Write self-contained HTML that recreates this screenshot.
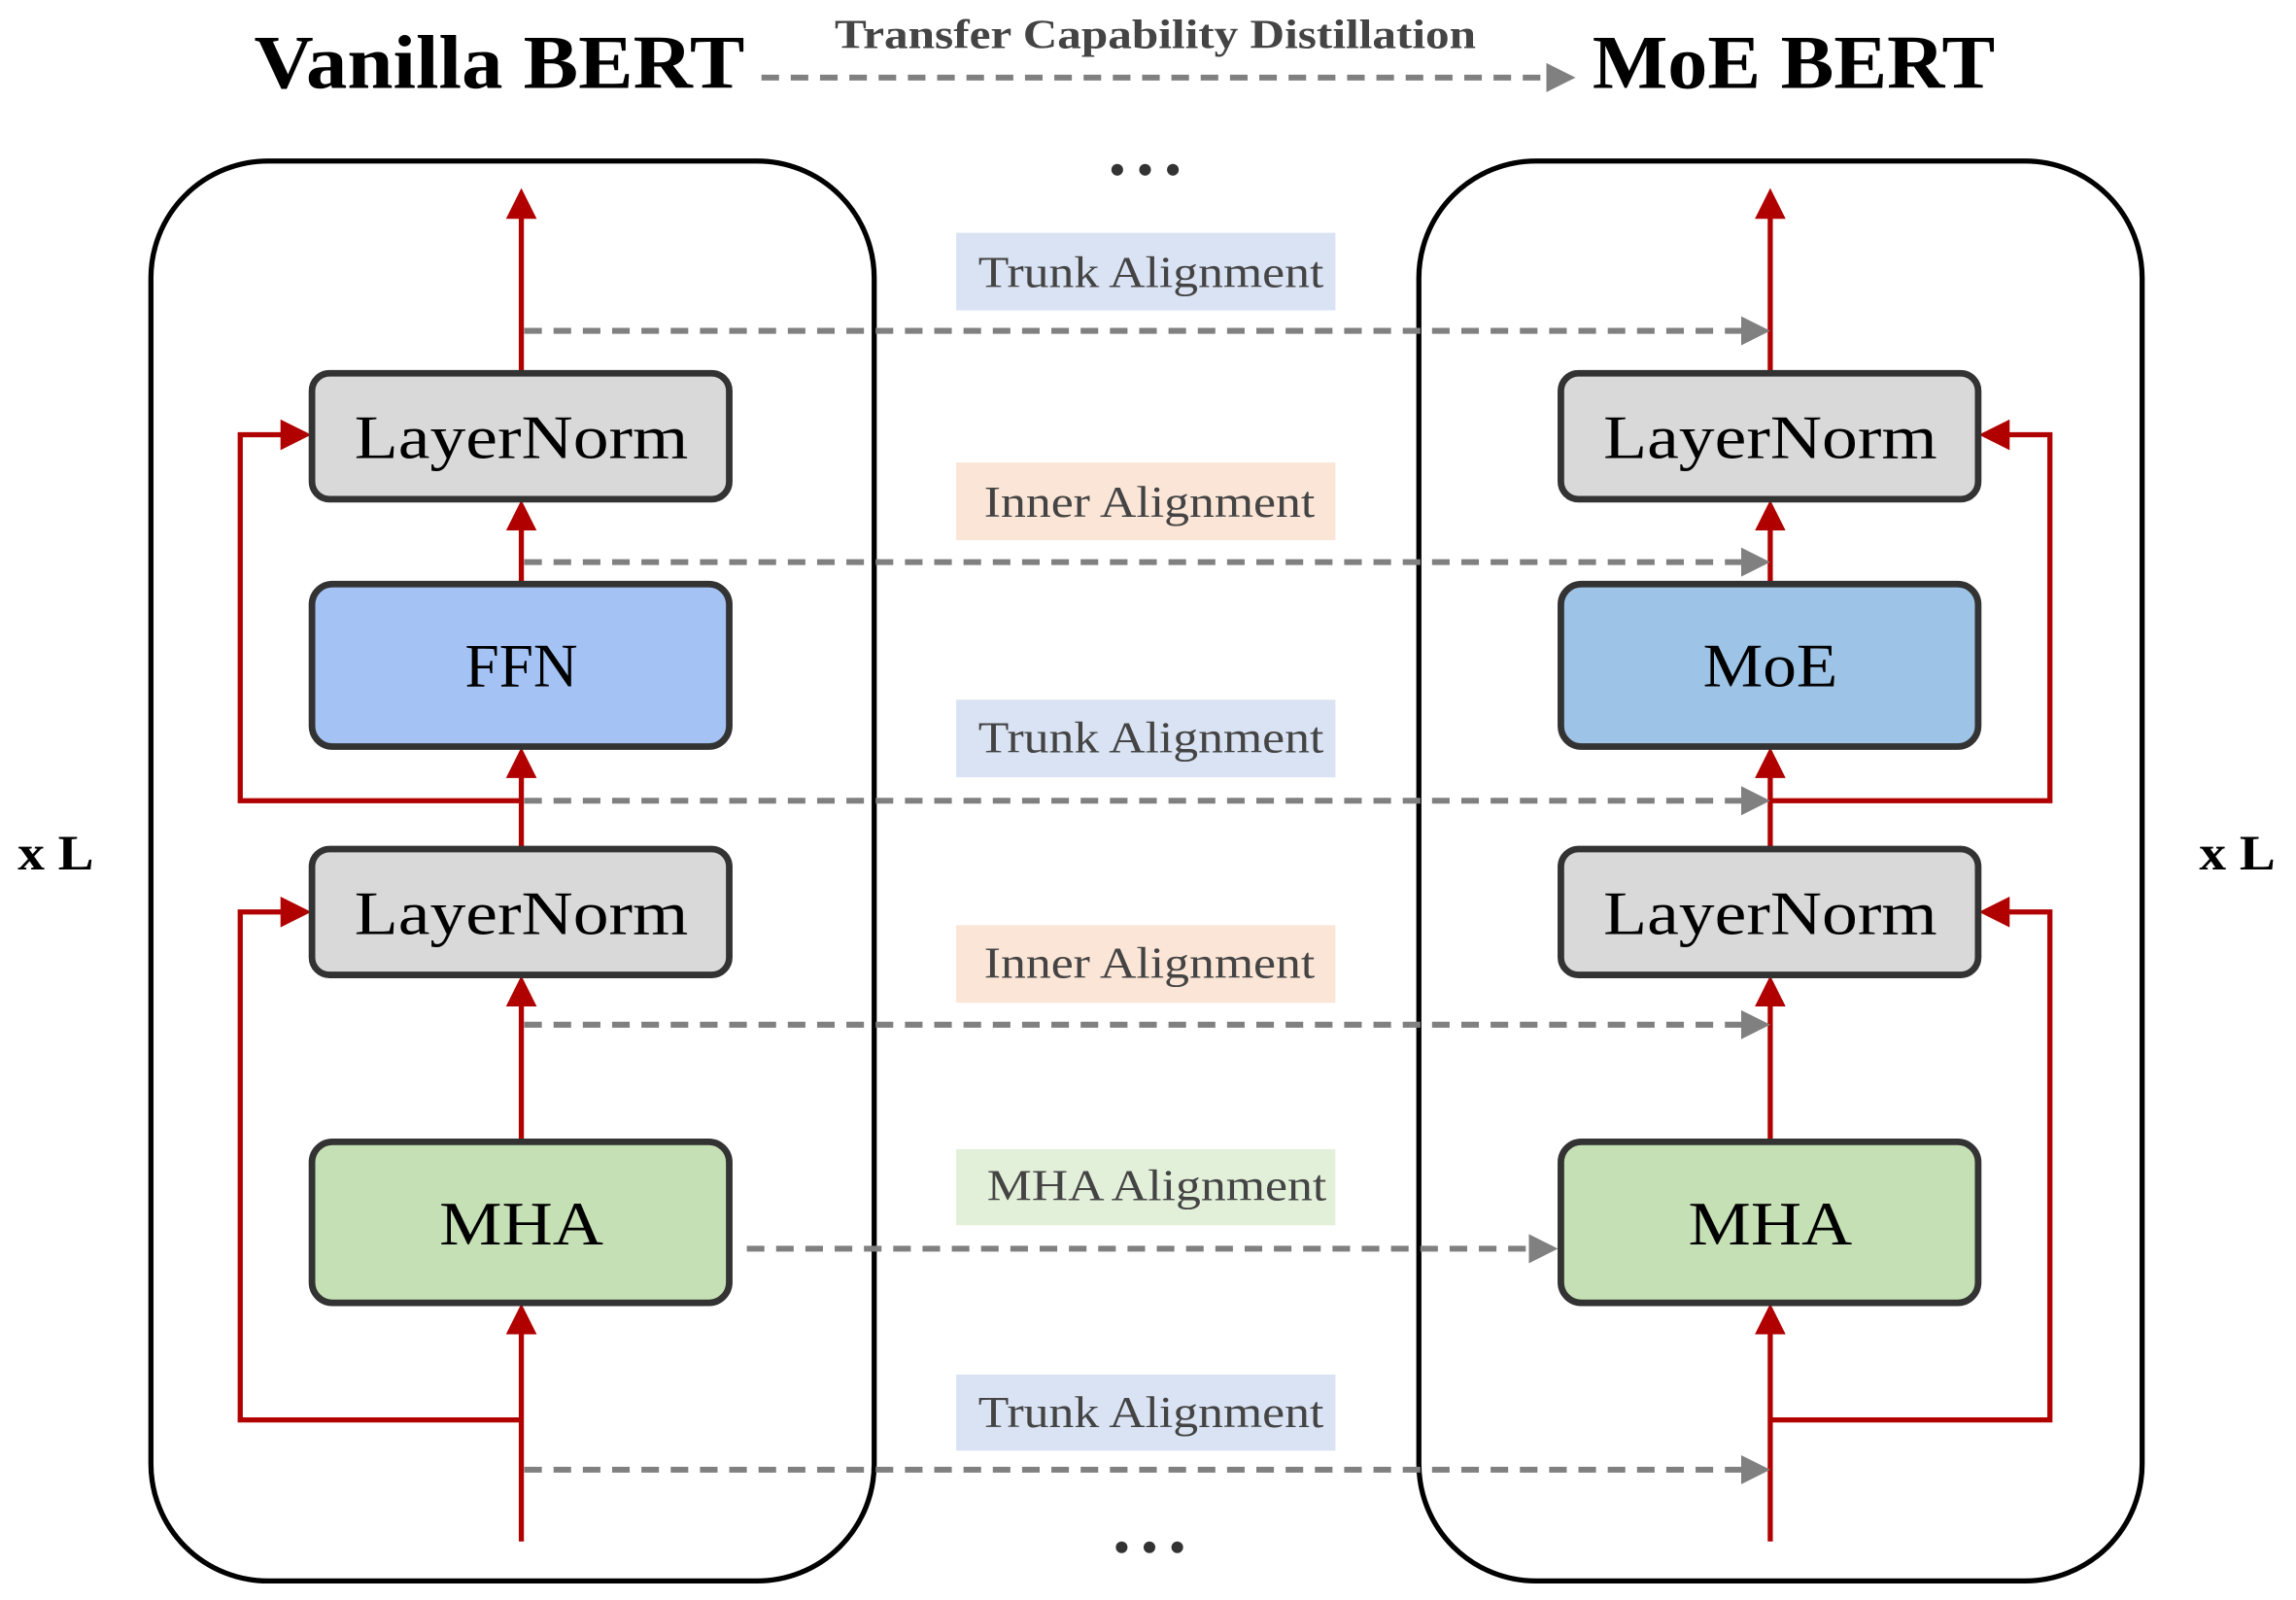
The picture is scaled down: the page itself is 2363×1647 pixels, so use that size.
<!DOCTYPE html>
<html><head><meta charset="utf-8"><style>html,body{margin:0;padding:0;background:#fff}svg{display:block}</style></head>
<body>
<svg width="2363" height="1647" viewBox="0 0 1568 1093" xmlns="http://www.w3.org/2000/svg" font-family="'Liberation Serif', serif">
<defs>
<marker id="ra" markerWidth="6" markerHeight="6" refX="5" refY="3" orient="auto" markerUnits="strokeWidth"><path d="M0,0 L6,3 L0,6 z" fill="#b00000"/></marker>
<marker id="ga" markerWidth="5" markerHeight="5" refX="4" refY="2.5" orient="auto" markerUnits="strokeWidth"><path d="M0,0 L5,2.5 L0,5 z" fill="#808080"/></marker>
</defs>
<text x="341" y="60" font-size="52" font-weight="bold" text-anchor="middle" textLength="335" lengthAdjust="spacingAndGlyphs">Vanilla BERT</text>
<text x="1225" y="60" font-size="52" font-weight="bold" text-anchor="middle" textLength="275" lengthAdjust="spacingAndGlyphs">MoE BERT</text>
<text x="789" y="33" font-size="28" font-weight="bold" fill="#444" text-anchor="middle" textLength="438" lengthAdjust="spacingAndGlyphs">Transfer Capability Distillation</text>
<line x1="520" y1="53" x2="1072" y2="53" stroke="#808080" stroke-width="4" stroke-dasharray="12,8" marker-end="url(#ga)"/>
<g fill="#333">
<circle cx="763" cy="116" r="4"/><circle cx="782" cy="116" r="4"/><circle cx="801" cy="116" r="4"/>
<circle cx="766" cy="1057" r="4"/><circle cx="785" cy="1057" r="4"/><circle cx="804" cy="1057" r="4"/>
</g>
<text x="38" y="594" font-size="34" font-weight="bold" text-anchor="middle" textLength="52" lengthAdjust="spacingAndGlyphs">x L</text>
<text x="1528" y="594" font-size="34" font-weight="bold" text-anchor="middle" textLength="52" lengthAdjust="spacingAndGlyphs">x L</text>
<rect x="103" y="110" width="494" height="970" rx="80" fill="none" stroke="#000" stroke-width="3.5"/>
<rect x="969" y="110" width="494" height="970" rx="80" fill="none" stroke="#000" stroke-width="3.5"/>
<g font-size="30" fill="#444" text-anchor="middle" lengthAdjust="spacingAndGlyphs">
<rect x="653" y="159" width="259" height="53" fill="#dae3f3"/><text x="786" y="196" textLength="236" lengthAdjust="spacingAndGlyphs">Trunk Alignment</text>
<rect x="653" y="316" width="259" height="53" fill="#fbe5d6"/><text x="785" y="353" textLength="226" lengthAdjust="spacingAndGlyphs">Inner Alignment</text>
<rect x="653" y="478" width="259" height="53" fill="#dae3f3"/><text x="786" y="514" textLength="236" lengthAdjust="spacingAndGlyphs">Trunk Alignment</text>
<rect x="653" y="632" width="259" height="53" fill="#fbe5d6"/><text x="785" y="668" textLength="226" lengthAdjust="spacingAndGlyphs">Inner Alignment</text>
<rect x="653" y="785" width="259" height="52" fill="#e2f0d9"/><text x="790" y="820" textLength="232" lengthAdjust="spacingAndGlyphs">MHA Alignment</text>
<rect x="653" y="939" width="259" height="52" fill="#dae3f3"/><text x="786" y="975" textLength="236" lengthAdjust="spacingAndGlyphs">Trunk Alignment</text>
</g>
<g stroke="#b00000" stroke-width="3.5" fill="none">
<line x1="356" y1="1053" x2="356" y2="894" marker-end="url(#ra)"/>
<line x1="356" y1="780" x2="356" y2="670" marker-end="url(#ra)"/>
<line x1="356" y1="580" x2="356" y2="514" marker-end="url(#ra)"/>
<line x1="356" y1="399" x2="356" y2="345" marker-end="url(#ra)"/>
<line x1="356" y1="255" x2="356" y2="132" marker-end="url(#ra)"/>
<polyline points="356,970 164,970 164,623 209,623" marker-end="url(#ra)"/>
<polyline points="356,547 164,547 164,297 209,297" marker-end="url(#ra)"/>
<line x1="1209" y1="1053" x2="1209" y2="894" marker-end="url(#ra)"/>
<line x1="1209" y1="780" x2="1209" y2="670" marker-end="url(#ra)"/>
<line x1="1209" y1="580" x2="1209" y2="514" marker-end="url(#ra)"/>
<line x1="1209" y1="399" x2="1209" y2="345" marker-end="url(#ra)"/>
<line x1="1209" y1="255" x2="1209" y2="132" marker-end="url(#ra)"/>
<polyline points="1209,970 1400,970 1400,623 1355,623" marker-end="url(#ra)"/>
<polyline points="1209,547 1400,547 1400,297 1355,297" marker-end="url(#ra)"/>
</g>
<g stroke="#808080" stroke-width="4" stroke-dasharray="12,8" fill="none">
<line x1="358" y1="226" x2="1205" y2="226" marker-end="url(#ga)"/>
<line x1="358" y1="384" x2="1205" y2="384" marker-end="url(#ga)"/>
<line x1="358" y1="547" x2="1205" y2="547" marker-end="url(#ga)"/>
<line x1="358" y1="700" x2="1205" y2="700" marker-end="url(#ga)"/>
<line x1="358" y1="1004" x2="1205" y2="1004" marker-end="url(#ga)"/>
<line x1="510" y1="853" x2="1060" y2="853" marker-end="url(#ga)"/>
</g>
<g stroke="#333" stroke-width="4.5" font-size="42" text-anchor="middle">
<rect x="213" y="255" width="285" height="86" rx="12" fill="#d9d9d9"/>
<rect x="213" y="399" width="285" height="111" rx="14" fill="#a4c2f4"/>
<rect x="213" y="580" width="285" height="86" rx="12" fill="#d9d9d9"/>
<rect x="213" y="780" width="285" height="110" rx="14" fill="#c5e0b4"/>
<rect x="1066" y="255" width="285" height="86" rx="12" fill="#d9d9d9"/>
<rect x="1066" y="399" width="285" height="111" rx="14" fill="#9dc3e6"/>
<rect x="1066" y="580" width="285" height="86" rx="12" fill="#d9d9d9"/>
<rect x="1066" y="780" width="285" height="110" rx="14" fill="#c5e0b4"/>
<g stroke="none" fill="#000">
<text x="356" y="313" textLength="228" lengthAdjust="spacingAndGlyphs">LayerNorm</text>
<text x="356" y="469">FFN</text>
<text x="356" y="638" textLength="228" lengthAdjust="spacingAndGlyphs">LayerNorm</text>
<text x="356" y="850" textLength="112" lengthAdjust="spacingAndGlyphs">MHA</text>
<text x="1209" y="313" textLength="228" lengthAdjust="spacingAndGlyphs">LayerNorm</text>
<text x="1209" y="469" textLength="92" lengthAdjust="spacingAndGlyphs">MoE</text>
<text x="1209" y="638" textLength="228" lengthAdjust="spacingAndGlyphs">LayerNorm</text>
<text x="1209" y="850" textLength="112" lengthAdjust="spacingAndGlyphs">MHA</text>
</g>
</g>
</svg>
</body></html>
